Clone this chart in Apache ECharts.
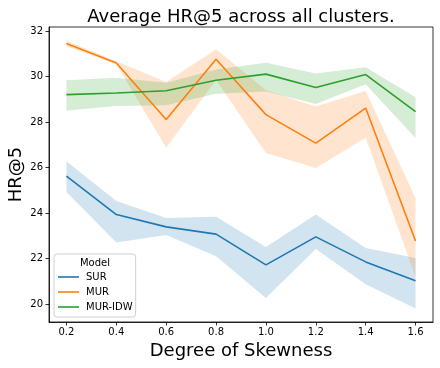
<!DOCTYPE html>
<html>
<head>
    <meta charset="utf-8">
    <title>Average HR@5 across all clusters.</title>
    <script src="https://cdn.jsdelivr.net/npm/echarts@6/dist/echarts.min.js"></script>
    <style>
        html, body { margin: 0; padding: 0; background: #fff; }
        #main { width: 440px; height: 368px; }
    </style>
</head>
<body>
<div id="main"></div>
<script>
    // skewness levels (x) and tick labels
    var skew = [0.2, 0.4, 0.6, 0.8, 1.0, 1.2, 1.4, 1.6];
    var xTicks = [0.2, 0.4, 0.6, 0.8, 1.0, 1.2, 1.4, 1.6];
    var yTicks = [20, 22, 24, 26, 28, 30, 32];

    // mean line + confidence band (lo / hi)
    var sur   = [25.63, 23.94, 23.40, 23.08, 21.73, 22.96, 21.86, 21.03];
    var surLo = [24.93, 22.71, 23.04, 22.11, 20.27, 22.43, 20.88, 19.81];
    var surHi = [26.28, 24.54, 23.79, 23.84, 22.52, 23.94, 22.47, 22.03];

    var mur   = [31.46, 30.60, 28.12, 30.76, 28.33, 27.08, 28.62, 22.78];
    var murLo = [31.33, 30.54, 26.88, 29.85, 26.64, 25.99, 27.32, 21.20];
    var murHi = [31.59, 30.67, 29.76, 31.20, 29.40, 28.69, 29.37, 24.67];

    var idw   = [29.21, 29.28, 29.38, 29.84, 30.11, 29.52, 30.09, 28.46];
    var idwLo = [28.51, 28.71, 28.74, 29.25, 29.35, 28.80, 29.66, 27.30];
    var idwHi = [29.84, 29.95, 29.73, 30.31, 30.61, 30.14, 30.41, 29.09];

    var models = [
        {name: 'SUR', color: '#1f77b4', mean: sur, lo: surLo, hi: surHi},
        {name: 'MUR', color: '#ff7f0e', mean: mur, lo: murLo, hi: murHi},
        {name: 'MUR-IDW', color: '#2ca02c', mean: idw, lo: idwLo, hi: idwHi}
    ];

    function pairs(ys) {
        return skew.map(function (x, i) { return [x, ys[i]]; });
    }

    // band drawn as one polygon through the axis scales
    function bandRenderer(m) {
        return function (params, api) {
            if (params.dataIndex !== 0) return;
            var pts = [];
            var i;
            for (i = 0; i < skew.length; i++) pts.push(api.coord([skew[i], m.hi[i]]));
            for (i = skew.length - 1; i >= 0; i--) pts.push(api.coord([skew[i], m.lo[i]]));
            return {
                type: 'polygon',
                shape: {points: pts},
                style: {fill: m.color, opacity: 0.2},
                silent: true
            };
        };
    }

    var series = [];
    models.forEach(function (m) {
        series.push({
            name: m.name,
            type: 'line',
            data: pairs(m.mean),
            showSymbol: false,
            symbol: 'none',
            color: m.color,
            lineStyle: {color: m.color, width: 1.6},
            silent: true
        });
        series.push({
            name: m.name + ' band',
            type: 'custom',
            renderItem: bandRenderer(m),
            data: skew.map(function (x, i) { return [x, m.lo[i], m.hi[i]]; }),
            encode: {x: 0, y: [1, 2]},
            silent: true
        });
    });

    var font = 'DejaVu Sans';
    var myChart = echarts.init(document.getElementById('main'));
    myChart.setOption({
        animation: false,
        textStyle: {fontFamily: font},
        title: {
            text: 'Average HR@5 across all clusters.',
            left: 236,
            top: 3,
            textAlign: 'center',
            textStyle: {fontFamily: font, fontSize: 18, fontWeight: 'normal', color: '#000'}
        },
        grid: {
            left: 49, right: 7, top: 27, bottom: 46,
            containLabel: false,
            outerBoundsMode: 'none',
            show: true,
            borderColor: '#000',
            borderWidth: 0.8
        },
        legend: {
            data: ['SUR', 'MUR', 'MUR-IDW'],
            orient: 'vertical',
            left: 54,
            top: 254,
            padding: [17, 3, 4, 4],
            itemGap: 3,
            itemWidth: 21,
            itemHeight: 2,
            icon: 'rect',
            itemStyle: {opacity: 0.8},
            backgroundColor: 'rgba(255,255,255,0.8)',
            borderColor: '#d0d0d0',
            borderWidth: 1,
            borderRadius: 3,
            textStyle: {fontFamily: font, fontSize: 10, color: '#000', lineHeight: 12, padding: [0, 0, 0, 2]}
        },
        graphic: [{
            type: 'text',
            z: 100,
            x: 95,
            y: 263,
            style: {
                text: 'Model',
                fontFamily: font,
                fontSize: 10,
                fill: '#000',
                textAlign: 'center',
                textVerticalAlign: 'middle'
            }
        }],
        xAxis: {
            type: 'value',
            min: 0.13,
            max: 1.67,
            name: 'Degree of Skewness',
            nameLocation: 'middle',
            nameGap: 20,
            nameMoveOverlap: false,
            nameTextStyle: {fontFamily: font, fontSize: 18, color: '#000'},
            axisLine: {show: true, lineStyle: {color: '#000', width: 0.8}},
            axisTick: {show: true, length: 3.5, customValues: xTicks, lineStyle: {color: '#000', width: 0.8}},
            axisLabel: {
                customValues: xTicks,
                fontSize: 10,
                color: '#000',
                margin: 5,
                formatter: function (v) { return v.toFixed(1); }
            },
            splitLine: {show: false}
        },
        yAxis: {
            type: 'value',
            min: 19.22,
            max: 32.18,
            name: 'HR@5',
            nameLocation: 'middle',
            nameGap: 24,
            nameMoveOverlap: false,
            nameTextStyle: {fontFamily: font, fontSize: 18, color: '#000'},
            axisLine: {show: true, lineStyle: {color: '#000', width: 0.8}},
            axisTick: {show: true, length: 3.5, customValues: yTicks, lineStyle: {color: '#000', width: 0.8}},
            axisLabel: {customValues: yTicks, fontSize: 10, color: '#000', margin: 6},
            splitLine: {show: false}
        },
        series: series
    });
</script>
</body>
</html>
